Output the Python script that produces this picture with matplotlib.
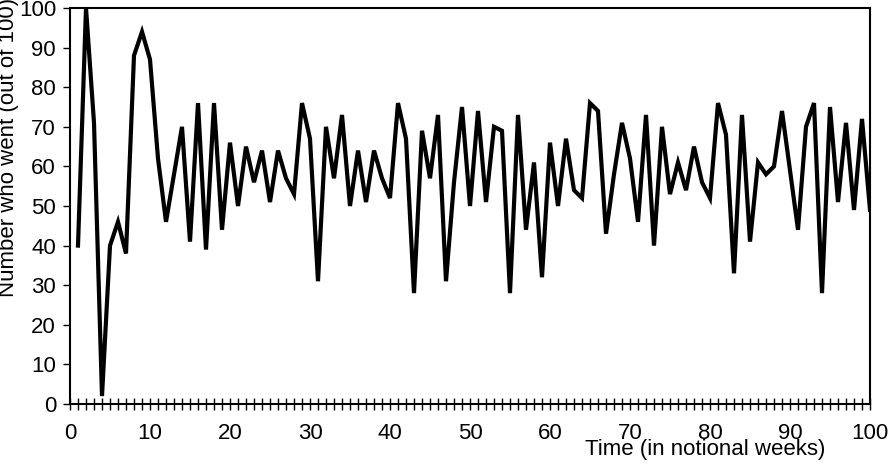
import matplotlib
matplotlib.use("Agg")
import matplotlib.pyplot as plt
from matplotlib.ticker import MultipleLocator

plt.rcParams['font.family'] = ['Liberation Sans Narrow', 'Liberation Sans', 'DejaVu Sans']

# attendance per week (out of 100)
weeks = list(range(1, 101))
went = [40, 100, 71, 2, 40, 46, 38, 88, 94, 87,
        62, 46, 58, 70, 41, 76, 39, 76, 44, 66,
        50, 65, 56, 64, 51, 64, 57, 53, 76, 67,
        31, 70, 57, 73, 50, 64, 51, 64, 57, 52,
        76, 67, 28, 69, 57, 73, 31, 56, 75, 50,
        74, 51, 70, 69, 28, 73, 44, 61, 32, 66,
        50, 67, 54, 52, 76, 74, 43, 58, 71, 62,
        46, 73, 40, 70, 53, 61, 54, 65, 56, 52,
        76, 68, 33, 73, 41, 61, 58, 60, 74, 59,
        44, 70, 76, 28, 75, 51, 71, 49, 72, 49]

fig = plt.figure(figsize=(8.88, 4.66), dpi=100)
ax = fig.add_axes([70 / 888, 1 - 404 / 466, 800 / 888, 396 / 466])

ax.plot(weeks, went, color='black', linewidth=3, solid_joinstyle='miter')

ax.set_xlim(0, 100)
ax.set_ylim(0, 100)

ax.xaxis.set_major_locator(MultipleLocator(10))
ax.xaxis.set_minor_locator(MultipleLocator(1))
ax.yaxis.set_major_locator(MultipleLocator(10))

ax.tick_params(axis='x', which='both', direction='inout', length=9, width=1, pad=9)
ax.tick_params(axis='y', which='major', direction='out', length=5, width=1, pad=5)
ax.tick_params(labelsize=16)

for s in ax.spines.values():
    s.set_linewidth(1.5)

fig.text(9 / 888, 1 - 297 / 466, "Number who went (out of 100)", rotation=90,
         ha='center', va='bottom', fontsize=16)
fig.text(585 / 888, 1 - 449 / 466, "Time (in notional weeks)",
         ha='left', va='center', fontsize=16)

fig.savefig("out.png", dpi=100)
